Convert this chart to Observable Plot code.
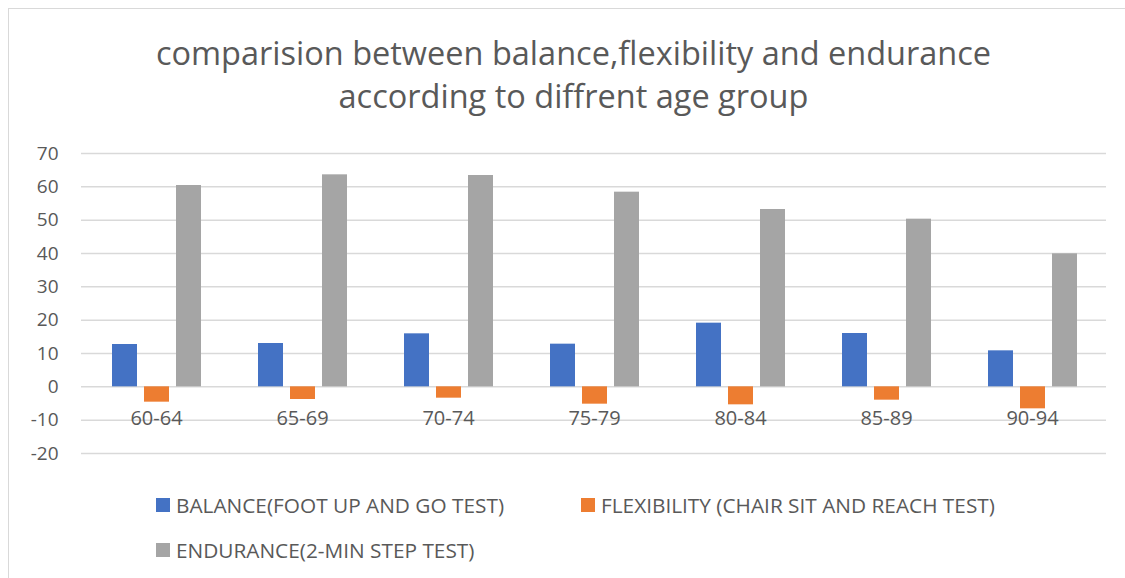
<!DOCTYPE html>
<html>
<head>
<meta charset="utf-8">
<script src="https://cdn.jsdelivr.net/npm/d3@7"></script>
<script src="https://cdn.jsdelivr.net/npm/@observablehq/plot@0.6"></script>
<style>
  html, body { margin: 0; padding: 0; background: #fff; }
  #wrap { position: relative; width: 1125px; height: 578px; overflow: hidden; font-family: "Open Sans", sans-serif; color: #595959; }
  #frame { position: absolute; left: 8px; top: 8px; width: 1200px; height: 700px; border-top: 1.5px solid #d9d9d9; border-left: 1.5px solid #d9d9d9; }
  #title { position: absolute; left: 0; top: 31px; width: 1147px; text-align: center; font-size: 32.5px; line-height: 43px; }
  .layer { position: absolute; left: 0; top: 120px; }
  .leg { position: absolute; font-size: 20.8px; display: flex; align-items: center; white-space: nowrap; }
  .sw { width: 14px; height: 14px; margin-right: 6px; }
</style>
</head>
<body>
<div id="wrap">
  <div id="frame"></div>
  <div id="title"></div>
  <div id="grid" class="layer"></div>
  <div id="chart" class="layer"></div>
  <div id="legend"></div>
</div>
<script>
const titleLines = ["comparision between balance,flexibility and endurance", "according to diffrent age group"];
const ageGroups = ["60-64", "65-69", "70-74", "75-79", "80-84", "85-89", "90-94"];
const seriesNames = ["BALANCE(FOOT UP AND GO TEST)", "FLEXIBILITY (CHAIR SIT AND REACH TEST)", "ENDURANCE(2-MIN STEP TEST)"];
const seriesColors = ["#4472C4", "#ED7D31", "#A5A5A5"];
const balance = [12.7, 13.0, 15.9, 12.8, 19.1, 16.0, 10.8];
const flexibility = [-4.6, -3.8, -3.4, -5.2, -5.4, -4.0, -6.6];
const endurance = [60.4, 63.6, 63.4, 58.4, 53.2, 50.3, 39.9];
const yTicks = [-20, -10, 0, 10, 20, 30, 40, 50, 60, 70];

const seriesValues = [balance, flexibility, endurance];
const data = [];
ageGroups.forEach((age, i) => {
  seriesNames.forEach((s, j) => data.push({age, series: s, value: seriesValues[j][i]}));
});

document.getElementById("title").innerHTML = titleLines.join("<br>");

const common = {
  width: 1125,
  height: 350,
  marginTop: 33,
  marginBottom: 17,
  marginLeft: 81,
  marginRight: 19,
  style: {fontFamily: "Open Sans, sans-serif", color: "#595959", background: "transparent"}
};

// background layer: gridlines and y axis spanning the full plot width
const gridPlot = Plot.plot({
  ...common,
  y: {domain: [-20, 70], axis: null},
  marks: [
    Plot.ruleY(yTicks, {y: d => d, stroke: "#d9d9d9", strokeWidth: 1.5}),
    Plot.axisY({ticks: yTicks, tickSize: 0, tickPadding: 23, tickFormat: d => String(d), fontSize: 19, fill: "#595959", label: null})
  ]
});
document.getElementById("grid").appendChild(gridPlot);

// foreground layer: grouped bars
const plot = Plot.plot({
  ...common,
  fx: {domain: ageGroups, paddingInner: 0.385, paddingOuter: 0.1925, axis: null, label: null},
  x: {domain: seriesNames, paddingInner: 0.23, paddingOuter: 0, axis: null},
  y: {domain: [-20, 70], axis: null},
  color: {domain: seriesNames, range: seriesColors},
  marks: [
    Plot.barY(data, {fx: "age", x: "series", y: "value", fill: "series"}),
    Plot.text(ageGroups, {fx: d => d, y: 0, text: d => d, dy: 32, fontSize: 20, fill: "#595959"})
  ]
});
document.getElementById("chart").appendChild(plot);

const legendPos = [[156, 498], [581, 498], [156, 543]];
const legend = document.getElementById("legend");
seriesNames.forEach((s, j) => {
  const item = document.createElement("div");
  item.className = "leg";
  item.style.left = legendPos[j][0] + "px";
  item.style.top = (legendPos[j][1] - 7) + "px";
  item.style.height = "28px";
  item.innerHTML = `<span class="sw" style="background:${seriesColors[j]}"></span><span>${s}</span>`;
  legend.appendChild(item);
});
</script>
</body>
</html>
